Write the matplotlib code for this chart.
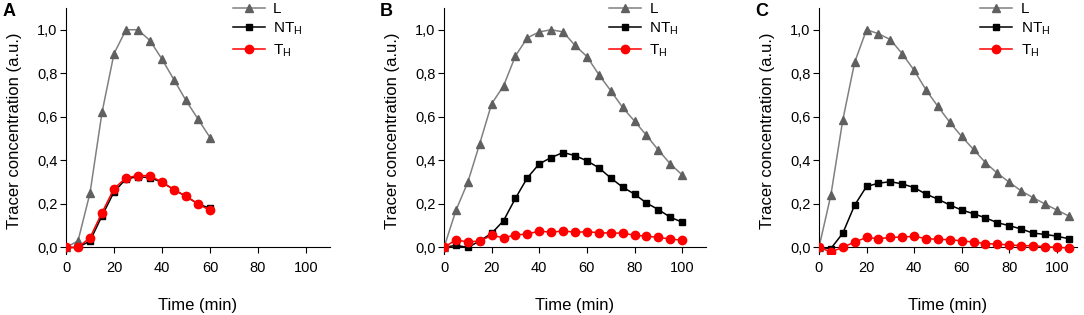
import numpy as np
import matplotlib
matplotlib.use('Agg')
import matplotlib.pyplot as plt
from matplotlib.ticker import FuncFormatter

# panel A: 0..60 min
time_a = list(range(0, 61, 5))
l_a = [0, 0.03, 0.25, 0.62, 0.89, 1.0, 1.0, 0.95, 0.865, 0.77, 0.675, 0.59, 0.505]
nt_a = [0, 0, 0.03, 0.145, 0.255, 0.315, 0.325, 0.32, 0.30, 0.265, 0.235, 0.20, 0.18]
t_a = [0, 0, 0.045, 0.16, 0.27, 0.32, 0.33, 0.33, 0.30, 0.265, 0.235, 0.20, 0.17]

# panel B: 0..100 min
time_b = list(range(0, 101, 5))
l_b = [0, 0.17, 0.30, 0.477, 0.66, 0.742, 0.88, 0.963, 0.99, 1.0, 0.99, 0.928,
       0.877, 0.794, 0.72, 0.643, 0.58, 0.515, 0.447, 0.384, 0.333]
nt_b = [0, 0.01, 0.0, 0.03, 0.065, 0.123, 0.226, 0.32, 0.384, 0.413, 0.436, 0.422,
        0.398, 0.366, 0.319, 0.277, 0.245, 0.204, 0.174, 0.139, 0.116]
t_b = [0, 0.035, 0.025, 0.03, 0.055, 0.045, 0.057, 0.062, 0.075, 0.07, 0.076, 0.07,
       0.072, 0.068, 0.066, 0.066, 0.056, 0.052, 0.046, 0.039, 0.033]

# panel C: 0..105 min
time_c = list(range(0, 106, 5))
l_c = [0, 0.24, 0.584, 0.85, 1.0, 0.982, 0.955, 0.89, 0.814, 0.724, 0.648, 0.575,
       0.51, 0.45, 0.39, 0.341, 0.30, 0.26, 0.229, 0.20, 0.172, 0.145]
nt_c = [0, -0.005, 0.065, 0.194, 0.28, 0.295, 0.302, 0.292, 0.275, 0.245, 0.222, 0.195,
        0.172, 0.155, 0.136, 0.114, 0.10, 0.085, 0.066, 0.06, 0.052, 0.04]
t_c = [0, -0.02, 0.0, 0.025, 0.046, 0.04, 0.046, 0.048, 0.051, 0.041, 0.037, 0.036,
       0.03, 0.025, 0.018, 0.015, 0.012, 0.008, 0.008, 0.004, 0.0, -0.002]

panels = [
    ('A', time_a, l_a, nt_a, t_a, 110),
    ('B', time_b, l_b, nt_b, t_b, 110),
    ('C', time_c, l_c, nt_c, t_c, 108.5),
]
lefts = [0.0609, 0.4096, 0.7555]
widths = [0.2435, 0.2417, 0.238]

plt.rcParams['font.family'] = ['Liberation Sans', 'DejaVu Sans']

fig = plt.figure(figsize=(10.84, 3.15), dpi=100)
comma = FuncFormatter(lambda v, p: ('%.1f' % v).replace('.', ','))

for (letter, t, l, nt, th, xmax), left, w in zip(panels, lefts, widths):
    ax = fig.add_axes([left, 0.1937, w, 0.781])
    ax.plot(t, l, color='#808080', lw=1.1, marker='^', ms=5.5,
            mfc='#606060', mec='#606060', label='L', zorder=2)
    ax.plot(t, nt, color='black', lw=1.1, marker='s', ms=5,
            label='NT$_\\mathregular{H}$', zorder=3)
    ax.plot(t, th, color='#ff0000', lw=1.1, marker='o', ms=6,
            label='T$_\\mathregular{H}$', zorder=4)
    ax.set_xlim(0, xmax)
    ax.set_ylim(-0.03, 1.1)
    ax.spines['top'].set_visible(False)
    ax.spines['right'].set_visible(False)
    ax.spines['bottom'].set_position(('data', 0))
    ax.set_xticks([0, 20, 40, 60, 80, 100])
    ax.set_yticks([0, 0.2, 0.4, 0.6, 0.8, 1.0])
    ax.yaxis.set_major_formatter(comma)
    ax.tick_params(direction='out', length=4, width=0.8, labelsize=10.5, pad=2)
    ax.tick_params(axis='x', pad=6)
    ax.set_xlabel('Time (min)', fontsize=12, labelpad=16)
    ax.set_ylabel('Tracer concentration (a.u.)', fontsize=12, labelpad=11)
    ax.legend(loc='upper right', bbox_to_anchor=(0.925, 1.055), frameon=False,
              fontsize=11, handlelength=2.1, handletextpad=0.55,
              labelspacing=0.3, borderpad=0.0)
    fig.text(left - 0.053, 0.962, letter, fontsize=13, fontweight='bold',
             va='center', ha='center')

fig.savefig('out.png', dpi=100)
